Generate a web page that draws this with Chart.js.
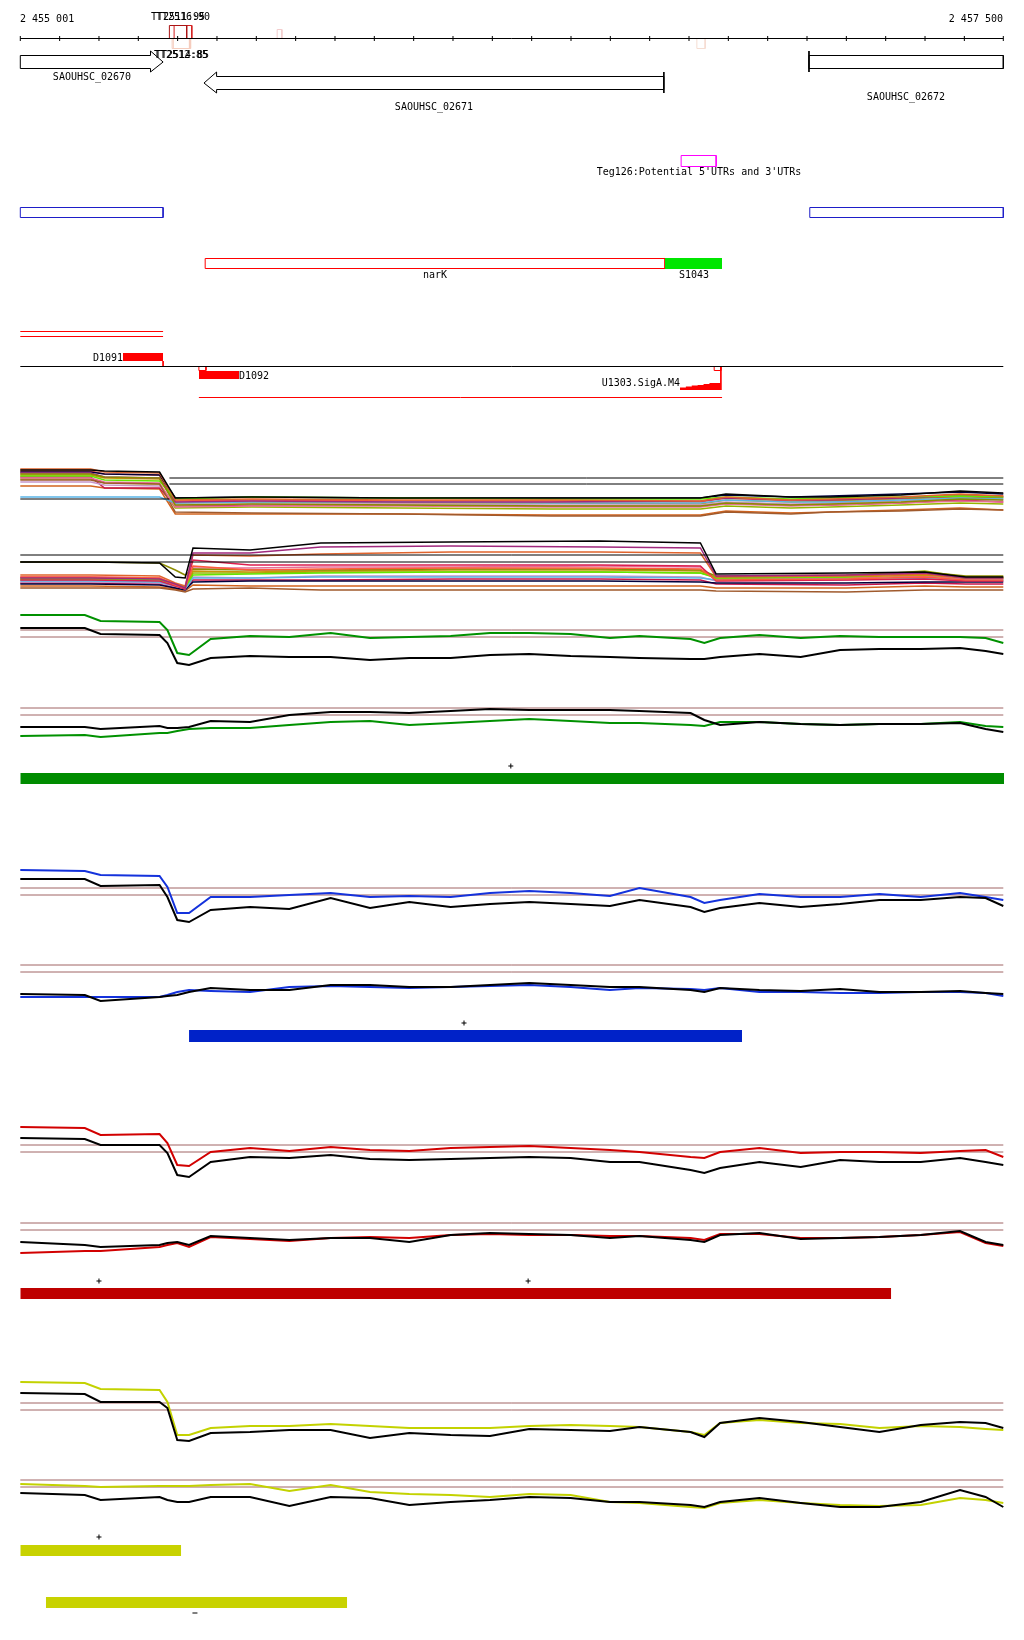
<!DOCTYPE html>
<html>
<head>
<meta charset="utf-8">
<title>narK region 2 455 001 - 2 457 500</title>
<script src="https://cdn.jsdelivr.net/npm/chart.js@4.4.1/dist/chart.umd.min.js"></script>
<style>
  html, body { margin: 0; padding: 0; background: #fff; }
  canvas { display: block; }
</style>
</head>
<body>
<canvas id="browser" width="1024" height="1640"></canvas>
<script>
// ---- view ----
const viewStart = 2455001, viewEnd = 2457500;
const axisTicks = [2455001, 2455101, 2455201, 2455301, 2455401, 2455501, 2455601, 2455701, 2455801,
  2455901, 2456001, 2456101, 2456201, 2456301, 2456401, 2456501, 2456601, 2456701, 2456801,
  2456901, 2457001, 2457101, 2457201, 2457301, 2457401, 2457500];

// ---- annotation ----
const geneNames = ['SAOUHSC_02670', 'SAOUHSC_02671', 'SAOUHSC_02672'];
const geneStart = [2454700, 2455468, 2457006];
const geneEnd = [2455364, 2456637, 2457800];
const geneStrand = ['+', '-', '+'];

const termNames = ['TT2511:95', 'TT2516:90', 'TT2512:85', 'TT2514:85'];
const termStart = [2455380, 2455392, 2455387, 2455390];
const termEnd = [2455424, 2455437, 2455431, 2455434];
const termStrand = ['+', '+', '-', '-'];

const tegName = "Teg126:Potential 5'UTRs and 3'UTRs";
const tegStart = 2456681, tegEnd = 2456770;

const blueStart = [2455001, 2457008];
const blueEnd = [2455364, 2457500];

const featNames = ['narK', 'S1043'];
const featStart = [2455471, 2456640];
const featEnd = [2456640, 2456785];

const tuNames = ['D1091', 'D1092', 'U1303.SigA.M4'];
const tuStart = [2455262, 2455455, 2456678];
const tuEnd = [2455364, 2455557, 2456782];
const sigaPos = [2456678, 2456693, 2456708, 2456723, 2456738, 2456753, 2456768, 2456782];
const sigaScore = [1.5, 2.5, 3.5, 4.5, 5, 6, 7, 7];
const utrStart = [2455001, 2455455];
const utrEnd = [2455364, 2456785];

const barStart = [2455001, 2455430, 2455001, 2455001, 2455066];
const barEnd = [2457502, 2456836, 2457215, 2455410, 2455832];
const plusPos = [2456248, 2456129, 2455201, 2456292, 2455201];
const minusPos = [2455445];

// ---- expression, all-conditions tracks ----
const pos1 = [2455001, 2455180, 2455215, 2455355, 2455395, 2455590, 2455965, 2456350, 2456730,
  2456795, 2456960, 2457060, 2457240, 2457390, 2457500];
const t1_01 = [4.8, 4.8, 4.7, 4.6, 2.0, 2.1, 2.0, 2.0, 2.0, 2.4, 2.1, 2.1, 2.3, 2.7, 2.5];
const t1_02 = [4.9, 4.9, 4.6, 4.5, 1.8, 1.9, 1.8, 1.8, 1.7, 2.1, 1.8, 1.9, 2.1, 2.4, 2.2];
const t1_03 = [4.4, 4.4, 4.1, 4.0, 1.3, 1.4, 1.3, 1.2, 1.2, 1.5, 1.3, 1.4, 1.6, 1.9, 1.8];
const t1_04 = [4.2, 4.2, 3.8, 3.7, 1.9, 2.1, 2.0, 1.9, 1.9, 2.1, 1.9, 2.0, 2.1, 2.2, 2.1];
const t1_05 = [4.5, 4.5, 4.1, 4.0, 1.6, 1.7, 1.6, 1.6, 1.7, 2.0, 1.8, 1.8, 2.0, 2.2, 2.1];
const t1_06 = [2.1, 2.1, 2.1, 2.1, 1.5, 1.6, 1.6, 1.5, 1.5, 1.8, 1.6, 1.6, 1.8, 2.0, 1.9];
const t1_07 = [3.8, 3.8, 3.5, 3.4, 0.6, 0.5, 0.4, 0.2, 0.2, 0.6, 0.4, 0.6, 0.7, 0.9, 0.8];
const t1_08 = [4.0, 4.0, 3.6, 3.5, 1.1, 1.2, 1.2, 1.1, 1.1, 1.4, 1.2, 1.3, 1.5, 1.7, 1.6];
const t1_09 = [4.6, 4.6, 4.4, 4.3, 2.0, 2.1, 2.0, 2.0, 2.0, 2.3, 2.1, 2.2, 2.4, 2.6, 2.4];
const t1_10 = [3.6, 3.6, 3.3, 3.2, 1.3, 1.4, 1.4, 1.3, 1.3, 1.6, 1.4, 1.5, 1.7, 1.9, 1.8];
const t1_11 = [4.3, 4.3, 4.0, 3.9, 1.5, 1.6, 1.5, 1.5, 1.4, 1.8, 1.6, 1.7, 1.9, 2.1, 2.0];
const t1_12 = [4.7, 4.7, 4.4, 4.3, 1.7, 1.8, 1.7, 1.7, 1.6, 2.0, 1.7, 1.8, 2.0, 2.3, 2.2];
const t1_13 = [4.1, 4.1, 3.0, 3.0, 1.2, 1.3, 1.3, 1.2, 1.2, 1.5, 1.3, 1.3, 1.5, 1.8, 1.6];
const t1_14 = [3.2, 3.2, 3.0, 2.9, 0.4, 0.4, 0.4, 0.3, 0.3, 0.7, 0.5, 0.6, 0.8, 1.0, 0.8];
const t1_15 = [3.9, 3.9, 3.5, 3.4, 1.0, 1.1, 1.0, 0.9, 0.9, 1.2, 1.0, 1.1, 1.3, 1.5, 1.4];
const t1Cut = [1.9, 4.0, 3.4];

const pos2 = [2455001, 2455180, 2455355, 2455395, 2455420, 2455440, 2455585, 2455765, 2456095,
  2456475, 2456730, 2456770, 2457100, 2457300, 2457405, 2457500];
const t2_01 = [3.3, 3.3, 3.2, 1.8, 1.7, 4.7, 4.5, 5.2, 5.3, 5.4, 5.2, 2.1, 2.2, 2.3, 1.8, 1.8];
const t2_02 = [1.7, 1.7, 1.6, 1.1, 0.7, 4.2, 4.2, 4.8, 4.9, 4.8, 4.7, 1.9, 2.0, 2.2, 1.7, 1.7];
const t2_03 = [2.0, 2.0, 1.9, 1.2, 0.9, 4.0, 3.9, 4.1, 4.3, 4.3, 4.2, 1.8, 1.9, 2.1, 1.7, 1.7];
const t2_04 = [1.8, 1.8, 1.7, 1.0, 0.7, 2.9, 2.5, 2.6, 2.7, 2.7, 2.6, 1.5, 1.6, 1.8, 1.5, 1.5];
const t2_05 = [1.5, 1.5, 1.4, 0.9, 0.6, 3.5, 3.0, 3.0, 3.0, 3.0, 2.9, 1.4, 1.5, 1.6, 1.4, 1.4];
const t2_06 = [3.3, 3.3, 3.2, 2.5, 2.0, 2.6, 2.5, 2.5, 2.6, 2.6, 2.5, 1.9, 2.0, 2.3, 1.9, 1.9];
const t2_07 = [1.6, 1.6, 1.5, 1.1, 0.8, 2.0, 2.1, 2.2, 2.3, 2.3, 2.2, 1.7, 1.8, 2.3, 1.7, 1.7];
const t2_08 = [1.4, 1.4, 1.3, 0.9, 0.6, 1.7, 1.7, 1.8, 1.8, 1.8, 1.7, 1.5, 1.6, 1.7, 1.5, 1.5];
const t2_09 = [1.1, 1.1, 1.0, 0.7, 0.5, 1.3, 1.4, 1.4, 1.4, 1.4, 1.3, 1.2, 1.2, 1.3, 1.3, 1.3];
const t2_10 = [0.7, 0.7, 0.7, 0.5, 0.3, 0.6, 0.7, 0.5, 0.5, 0.5, 0.5, 0.4, 0.3, 0.5, 0.5, 0.5];
const t2_11 = [1.7, 1.7, 1.6, 1.0, 0.7, 2.4, 2.3, 2.4, 2.5, 2.5, 2.4, 1.7, 1.8, 2.0, 1.7, 1.7];
const t2_12 = [1.3, 1.3, 1.2, 0.8, 0.5, 1.8, 1.7, 1.9, 1.9, 1.9, 1.8, 1.4, 1.5, 1.7, 1.5, 1.5];
const t2_13 = [0.9, 0.9, 0.8, 0.6, 0.4, 1.0, 0.9, 0.9, 0.9, 0.9, 0.9, 0.7, 0.7, 0.9, 0.8, 0.8];
const t2_14 = [1.2, 1.2, 1.1, 0.8, 0.5, 1.5, 1.5, 1.5, 1.6, 1.6, 1.5, 1.1, 1.0, 1.2, 1.1, 1.1];
const t2_15 = [1.8, 1.8, 1.7, 1.1, 0.8, 2.7, 2.7, 2.8, 2.8, 2.9, 2.8, 1.6, 1.7, 1.9, 1.6, 1.6];
const t2_16 = [1.5, 1.5, 1.3, 0.9, 0.6, 2.2, 2.2, 2.3, 2.3, 2.3, 2.2, 1.8, 1.9, 2.4, 1.8, 1.8];
const t2Cut = [4.0, 3.3];

// ---- expression, condition tracks (colour vs black) ----
const pos = [2455001, 2455165, 2455205, 2455355, 2455375, 2455400, 2455430, 2455485, 2455585,
  2455685, 2455790, 2455890, 2455990, 2456095, 2456195, 2456295, 2456400, 2456500, 2456575,
  2456705, 2456740, 2456780, 2456880, 2456985, 2457085, 2457185, 2457290, 2457390, 2457455, 2457500];
const cutoffs = [4.0, 3.3];

const greenTopCol = [5.5, 5.5, 4.9, 4.8, 4.0, 1.7, 1.5, 3.1, 3.4, 3.3, 3.7, 3.2, 3.3, 3.4, 3.7, 3.7, 3.6, 3.2, 3.4, 3.1, 2.7, 3.2, 3.5, 3.2, 3.4, 3.3, 3.3, 3.3, 3.2, 2.7];
const greenTopBlk = [4.2, 4.2, 3.6, 3.5, 2.7, 0.7, 0.5, 1.2, 1.4, 1.3, 1.3, 1.0, 1.2, 1.2, 1.5, 1.6, 1.4, 1.3, 1.2, 1.1, 1.1, 1.3, 1.6, 1.3, 2.0, 2.1, 2.1, 2.2, 1.9, 1.6];
const greenBotBlk = [2.1, 2.1, 1.9, 2.2, 2.0, 2.0, 2.1, 2.7, 2.6, 3.3, 3.6, 3.6, 3.5, 3.7, 3.9, 3.8, 3.8, 3.8, 3.7, 3.5, 2.8, 2.3, 2.6, 2.4, 2.3, 2.4, 2.4, 2.5, 1.9, 1.6];
const greenBotCol = [1.2, 1.3, 1.1, 1.5, 1.5, 1.7, 1.9, 2.0, 2.0, 2.3, 2.6, 2.7, 2.3, 2.5, 2.7, 2.9, 2.7, 2.5, 2.5, 2.3, 2.2, 2.6, 2.6, 2.4, 2.3, 2.4, 2.4, 2.6, 2.2, 2.1];

const blueTopCol = [5.8, 5.7, 5.3, 5.2, 4.1, 1.5, 1.5, 3.1, 3.1, 3.3, 3.5, 3.1, 3.2, 3.1, 3.5, 3.7, 3.5, 3.2, 4.0, 3.1, 2.5, 2.8, 3.4, 3.1, 3.1, 3.4, 3.1, 3.5, 3.1, 2.8];
const blueTopBlk = [4.9, 4.9, 4.2, 4.3, 3.1, 0.8, 0.6, 1.8, 2.1, 1.9, 3.0, 2.0, 2.6, 2.1, 2.4, 2.6, 2.4, 2.2, 2.8, 2.1, 1.6, 2.0, 2.5, 2.1, 2.4, 2.8, 2.8, 3.1, 3.0, 2.2];
const blueBotBlk = [1.1, 1.0, 0.4, 0.8, 0.9, 1.0, 1.3, 1.7, 1.5, 1.5, 2.0, 2.0, 1.8, 1.8, 2.0, 2.2, 2.0, 1.8, 1.8, 1.5, 1.3, 1.7, 1.5, 1.4, 1.6, 1.3, 1.3, 1.4, 1.2, 1.1];
const blueBotCol = [0.8, 0.8, 0.8, 0.8, 1.0, 1.3, 1.5, 1.4, 1.3, 1.8, 1.9, 1.8, 1.7, 1.8, 1.9, 2.0, 1.8, 1.5, 1.7, 1.6, 1.5, 1.7, 1.3, 1.3, 1.2, 1.2, 1.3, 1.3, 1.2, 0.9];

const redTopCol = [5.8, 5.7, 5.0, 5.1, 4.2, 2.0, 1.9, 3.3, 3.7, 3.4, 3.8, 3.5, 3.4, 3.7, 3.8, 3.9, 3.7, 3.5, 3.3, 2.8, 2.7, 3.3, 3.7, 3.2, 3.3, 3.3, 3.2, 3.4, 3.5, 2.8];
const redTopBlk = [4.7, 4.6, 4.0, 4.0, 3.2, 1.0, 0.8, 2.3, 2.8, 2.7, 3.0, 2.6, 2.5, 2.6, 2.7, 2.8, 2.7, 2.3, 2.3, 1.5, 1.2, 1.7, 2.3, 1.8, 2.5, 2.3, 2.3, 2.7, 2.3, 2.0];
const redBotBlk = [2.1, 1.8, 1.6, 1.8, 2.0, 2.1, 1.8, 2.7, 2.5, 2.3, 2.5, 2.5, 2.1, 2.8, 3.0, 2.9, 2.8, 2.5, 2.7, 2.3, 2.1, 2.8, 3.0, 2.4, 2.5, 2.6, 2.8, 3.2, 2.1, 1.8];
const redBotCol = [1.0, 1.2, 1.2, 1.6, 1.8, 2.0, 1.6, 2.6, 2.4, 2.2, 2.5, 2.6, 2.5, 2.8, 2.9, 2.8, 2.8, 2.7, 2.7, 2.5, 2.3, 2.9, 2.9, 2.5, 2.5, 2.6, 2.8, 3.1, 2.0, 1.7];

const yellowTopCol = [6.1, 6.0, 5.4, 5.3, 4.1, 0.8, 0.8, 1.5, 1.7, 1.7, 1.9, 1.7, 1.5, 1.5, 1.5, 1.7, 1.8, 1.7, 1.6, 1.1, 0.8, 2.0, 2.3, 2.0, 1.9, 1.5, 1.7, 1.6, 1.4, 1.3];
const yellowTopBlk = [5.0, 4.9, 4.1, 4.1, 3.5, 0.3, 0.2, 1.0, 1.1, 1.3, 1.3, 0.5, 1.0, 0.8, 0.7, 1.4, 1.3, 1.2, 1.6, 1.1, 0.6, 2.0, 2.5, 2.1, 1.6, 1.1, 1.8, 2.1, 2.0, 1.5];
const yellowBotCol = [3.6, 3.4, 3.3, 3.4, 3.4, 3.4, 3.4, 3.5, 3.6, 2.9, 3.5, 2.8, 2.6, 2.5, 2.3, 2.6, 2.5, 1.8, 1.7, 1.3, 1.2, 1.7, 2.0, 1.7, 1.5, 1.4, 1.5, 2.2, 2.0, 1.7];
const yellowBotBlk = [2.7, 2.5, 2.0, 2.3, 2.0, 1.8, 1.8, 2.3, 2.3, 1.4, 2.3, 2.2, 1.5, 1.8, 2.0, 2.3, 2.2, 1.8, 1.8, 1.5, 1.3, 1.8, 2.2, 1.7, 1.3, 1.3, 1.8, 3.0, 2.3, 1.3];

// ---- layout and styles ----
const BP_PER_PX = (viewEnd - viewStart) / 983;
const X_MIN = viewStart - 20.3 * BP_PER_PX;
const X_MAX = X_MIN + 1024 * BP_PER_PX;
const PX_PER_UNIT = 10;
// y scale ids must not start with "r" (Chart.js would treat them as radial)
const PANEL_BASE = { yP1: 518, yP2: 595, yG1: 670, yG2: 748, yB1: 928, yB2: 1005, yR1: 1185, yR2: 1263, yY1: 1443, yY2: 1520 };
const ROW = {
  scaleLabel: 19, axis: 38.5,
  termLabel: { '+': 17, '-': 55 }, termBox: { '+': [25.5, 38.5], '-': [38.5, 48.5] },
  gene: { '+': [55.5, 68.5, 51, 72], '-': [76.5, 89.5, 72, 93] }, geneLabel: [77, 107, 97],
  teg: [155.5, 166.5], tegLabel: 172, blue: [207.5, 217.5],
  feat: [258.5, 268.5], featLabel: 275,
  utr: [[331.5, 336.5], [397.5]],
  d1091: [353, 361], baseline: 366.5, d1092: [371, 379], square: [366.5, 370.5], siga: 390,
  tuLabel: [358, 376, 383],
  bars: [[773, 784], [1030, 1042], [1288, 1299], [1545, 1556], [1597, 1608]],
  plus: [766, 1023, 1281, 1281, 1537], minus: [1613]
};
const HEAD = 32;
const FONT = '10px "DejaVu Sans Mono", "Liberation Mono", monospace';
const t1Colors = ['#000000', '#e0642d', '#8c8c00', '#64e600', '#a0287d', '#5ab4e6', '#a05a2d', '#e66e96',
  '#00003c', '#c896c8', '#c8960a', '#ff5a3c', '#c8144b', '#d2641e', '#96b400'];
const t2Colors = ['#000000', '#a0287d', '#e0642d', '#ff5a3c', '#dc1e50', '#8c8c00', '#64e600', '#5ab4e6',
  '#00003c', '#a05a2d', '#c8960a', '#c896c8', '#d2641e', '#c8144b', '#e66e96', '#96b400'];
const BROWN = '#a06464';
const barColors = ['#008c00', '#0022c8', '#be0000', '#c8d200', '#c8d200'];

// ---- dataset helpers ----
function path(points, axis, color, width, extra) {
  return Object.assign({
    data: points.map(p => ({ x: p[0], y: p[1] })),
    yAxisID: axis, borderColor: color, borderWidth: width,
    pointRadius: 0, fill: false, tension: 0
  }, extra || {});
}
function hline(x1, x2, y, axis, color, width) {
  return path([[x1, y], [x2, y]], axis, color, width);
}
function outline(x1, x2, r1, r2, color) {
  return path([[x1, r1], [x2, r1], [x2, r2], [x1, r2], [x1, r1]], 'yRows', color, 1);
}
function box(x1, x2, r1, r2, color) {
  return path([[x1, r1], [x2, r1]], 'yRows', 'rgba(0,0,0,0)', 0,
    { backgroundColor: color, fill: { value: r2 } });
}
function series(xs, ys, axis, color, width) {
  return path(xs.map((x, i) => [x, ys[i]]), axis, color, width);
}
function markers(xs, rows, style) {
  return {
    data: xs.map((x, i) => ({ x: x, y: rows[i] })), yAxisID: 'yRows', showLine: false,
    pointStyle: style, pointRadius: 2.5, pointBorderColor: '#000', pointBorderWidth: 1
  };
}
function genePolygon(i) {
  const s = Math.max(geneStart[i], viewStart), e = Math.min(geneEnd[i], viewEnd);
  const r = ROW.gene[geneStrand[i]];
  const mid = (r[0] + r[1]) / 2;
  const pts = [];
  let cap = null;
  if (geneStrand[i] === '+') {
    const head = geneEnd[i] <= viewEnd;
    const b = head ? e - HEAD : e;
    pts.push([s, r[0]], [b, r[0]]);
    if (head) pts.push([b, r[2]], [e, mid], [b, r[3]]);
    pts.push([b, r[1]], [s, r[1]], [s, r[0]]);
    if (geneStart[i] >= viewStart) cap = s;
  } else {
    const head = geneStart[i] >= viewStart;
    const b = head ? s + HEAD : s;
    pts.push([e, r[0]], [b, r[0]]);
    if (head) pts.push([b, r[2]], [s, mid], [b, r[3]]);
    pts.push([b, r[1]], [e, r[1]], [e, r[0]]);
    if (geneEnd[i] <= viewEnd) cap = e;
  }
  const out = [path(pts, 'yRows', '#000', 1)];
  if (cap !== null) out.push(path([[cap, r[2]], [cap, r[3]]], 'yRows', '#000', 1));
  return out;
}

// ---- datasets ----
const datasets = [];

// scale
datasets.push(hline(viewStart, viewEnd, ROW.axis, 'yRows', '#000', 1));
datasets.push({
  data: axisTicks.map(x => ({ x: x, y: ROW.axis })), yAxisID: 'yRows', showLine: false,
  pointStyle: 'line', rotation: 90, pointRadius: 2.5, pointBorderColor: '#000', pointBorderWidth: 1
});

// terminators and faint marks
termNames.forEach((n, i) => {
  const r = ROW.termBox[termStrand[i]];
  if (termStrand[i] === '+') datasets.push(outline(termStart[i], termEnd[i], r[0], r[1], i ? '#d21e1e' : '#aa1414'));
  else datasets.push(outline(termStart[i], termEnd[i], r[0], r[1], '#f5cdbe'));
});
datasets.push(outline(2455654, 2455666, 29.5, 38.5, '#f2cccc'));
datasets.push(outline(2456721, 2456742, 38.5, 48.5, '#f5ddd2'));

// genes
geneNames.forEach((n, i) => genePolygon(i).forEach(d => datasets.push(d)));

// Teg126, blue regions, narK / S1043
datasets.push(outline(tegStart, tegEnd, ROW.teg[0], ROW.teg[1], '#ff00ff'));
blueStart.forEach((s, i) => datasets.push(outline(s, blueEnd[i], ROW.blue[0], ROW.blue[1], '#1e1ec8')));
datasets.push(box(featStart[1], featEnd[1], ROW.feat[0] - 0.5, ROW.feat[1] + 0.5, '#00e600'));
datasets.push(outline(featStart[0], featEnd[0], ROW.feat[0], ROW.feat[1], '#ff0000'));

// transcription units
ROW.utr[0].forEach(r => datasets.push(hline(utrStart[0], utrEnd[0], r, 'yRows', '#ff0000', 1)));
datasets.push(hline(utrStart[1], utrEnd[1], ROW.utr[1][0], 'yRows', '#ff0000', 1));
datasets.push(hline(viewStart, viewEnd, ROW.baseline, 'yRows', '#000', 1));
datasets.push(box(tuStart[0], tuEnd[0], ROW.d1091[0], ROW.d1091[1], '#ff0000'));
datasets.push(path([[tuEnd[0], ROW.d1091[1]], [tuEnd[0], ROW.baseline]], 'yRows', '#ff0000', 1));
datasets.push(box(tuStart[1], tuEnd[1], ROW.d1092[0], ROW.d1092[1], '#ff0000'));
datasets.push(outline(tuStart[1], tuStart[1] + 18, ROW.square[0], ROW.square[1], '#ff0000'));
datasets.push(outline(tuEnd[2] - 17, tuEnd[2], ROW.square[0], ROW.square[1], '#ff0000'));
datasets.push(path([[tuEnd[2], ROW.baseline], [tuEnd[2], ROW.siga]], 'yRows', '#ff0000', 1));
datasets.push(path(sigaPos.map((x, i) => [x, ROW.siga - sigaScore[i]]), 'yRows', 'rgba(0,0,0,0)', 0,
  { stepped: 'after', backgroundColor: '#ff0000', fill: { value: ROW.siga } }));

// all-condition panels
datasets.push(hline(viewStart, 2455380, t1Cut[0], 'yP1', '#000', 1));
datasets.push(hline(2455380, viewEnd, t1Cut[1], 'yP1', '#000', 1));
datasets.push(hline(2455380, viewEnd, t1Cut[2], 'yP1', '#000', 1));
[t1_01, t1_02, t1_03, t1_04, t1_05, t1_06, t1_07, t1_08, t1_09, t1_10, t1_11, t1_12, t1_13, t1_14, t1_15]
  .forEach((s, i) => datasets.push(series(pos1, s, 'yP1', t1Colors[i], 1.5)));
t2Cut.forEach(c => datasets.push(hline(viewStart, viewEnd, c, 'yP2', '#000', 1)));
[t2_01, t2_02, t2_03, t2_04, t2_05, t2_06, t2_07, t2_08, t2_09, t2_10, t2_11, t2_12, t2_13, t2_14, t2_15, t2_16]
  .forEach((s, i) => datasets.push(series(pos2, s, 'yP2', t2Colors[i], 1.5)));

// condition panels
const condPanels = [
  ['yG1', greenTopCol, greenTopBlk, '#009100'], ['yG2', greenBotCol, greenBotBlk, '#009100'],
  ['yB1', blueTopCol, blueTopBlk, '#1432dc'], ['yB2', blueBotCol, blueBotBlk, '#1432dc'],
  ['yR1', redTopCol, redTopBlk, '#d20000'], ['yR2', redBotCol, redBotBlk, '#d20000'],
  ['yY1', yellowTopCol, yellowTopBlk, '#c3d200'], ['yY2', yellowBotCol, yellowBotBlk, '#c3d200']
];
condPanels.forEach(p => {
  datasets.push(series(pos, p[2], p[0], '#000', 2));
  datasets.push(series(pos, p[1], p[0], p[3], 2));
  cutoffs.forEach(c => datasets.push(hline(viewStart, viewEnd, c, p[0], BROWN, 1)));
});

// segment bars and strand marks
barStart.forEach((s, i) => datasets.push(box(s, barEnd[i], ROW.bars[i][0], ROW.bars[i][1], barColors[i])));
datasets.push(markers(plusPos, ROW.plus, 'cross'));
datasets.push(markers(minusPos, ROW.minus, 'line'));

// ---- labels ----
function spaced(n) { return String(n).replace(/\B(?=(\d{3})+(?!\d))/g, ' '); }
const labels = [];
labels.push({ t: spaced(viewStart), x: viewStart, y: ROW.scaleLabel, a: 'left' });
labels.push({ t: spaced(viewEnd), x: viewEnd, y: ROW.scaleLabel, a: 'right' });
termNames.forEach((n, i) => labels.push({ t: n, x: (termStart[i] + termEnd[i]) / 2, y: ROW.termLabel[termStrand[i]], a: 'center' }));
geneNames.forEach((n, i) => {
  const s = Math.max(geneStart[i], viewStart), e = Math.min(geneEnd[i], viewEnd);
  labels.push({ t: n, x: (s + e) / 2, y: ROW.geneLabel[i], a: 'center' });
});
labels.push({ t: tegName, x: (tegStart + tegEnd) / 2, y: ROW.tegLabel, a: 'center' });
featNames.forEach((n, i) => labels.push({ t: n, x: (featStart[i] + featEnd[i]) / 2, y: ROW.featLabel, a: 'center' }));
labels.push({ t: tuNames[0], x: tuStart[0], y: ROW.tuLabel[0], a: 'right' });
labels.push({ t: tuNames[1], x: tuEnd[1], y: ROW.tuLabel[1], a: 'left' });
labels.push({ t: tuNames[2], x: tuStart[2], y: ROW.tuLabel[2], a: 'right' });

const labelPlugin = {
  id: 'trackLabels',
  afterDatasetsDraw(chart) {
    const ctx = chart.ctx, xs = chart.scales.x, ys = chart.scales.yRows;
    ctx.save();
    ctx.font = FONT;
    ctx.fillStyle = '#000';
    ctx.textBaseline = 'middle';
    labels.forEach(l => {
      ctx.textAlign = l.a;
      ctx.fillText(l.t, Math.round(xs.getPixelForValue(l.x)), Math.round(ys.getPixelForValue(l.y)));
    });
    ctx.restore();
  }
};

// ---- scales ----
const scales = {
  x: { type: 'linear', axis: 'x', min: X_MIN, max: X_MAX, display: false },
  yRows: { type: 'linear', axis: 'y', min: 0, max: 1640, reverse: true, display: false }
};
Object.keys(PANEL_BASE).forEach(k => {
  const base = PANEL_BASE[k];
  scales[k] = { type: 'linear', axis: 'y', display: false, min: (base - 1640) / PX_PER_UNIT, max: base / PX_PER_UNIT };
});

new Chart(document.getElementById('browser').getContext('2d'), {
  type: 'line',
  data: { datasets: datasets },
  options: {
    responsive: false,
    animation: false,
    events: [],
    layout: { padding: 0, autoPadding: false },
    plugins: { legend: { display: false }, tooltip: { enabled: false } },
    elements: { point: { radius: 0 }, line: { tension: 0, borderCapStyle: 'butt' } },
    scales: scales
  },
  plugins: [labelPlugin]
});
</script>
</body>
</html>
